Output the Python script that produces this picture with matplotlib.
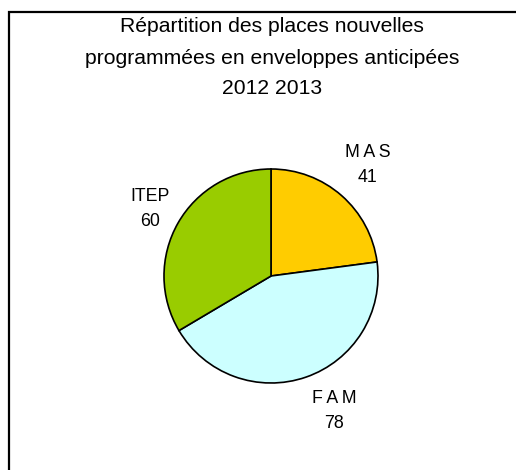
import matplotlib
matplotlib.use("Agg")
import matplotlib.pyplot as plt
import numpy as np
from matplotlib.patches import Rectangle

plt.rcParams["font.family"] = ["Liberation Sans", "DejaVu Sans"]

title = "Répartition des places nouvelles\nprogrammées en enveloppes anticipées\n2012 2013"
categories = ["M\u2009A\u2009S", "F\u2009A\u2009M", "ITEP"]
values = [41, 78, 60]
colors = ["#FFCC00", "#CCFFFF", "#99CC00"]

W, H = 516, 470
cx, cy, rad = 271, 276, 107  # pie centre / radius in pixels

fig = plt.figure(figsize=(W / 100, H / 100), dpi=100)
ax = fig.add_axes([0, 0, 1, 1])

wedges, _ = ax.pie(values, colors=colors, startangle=90, counterclock=False,
                   radius=1, center=(0, 0), frame=True,
                   wedgeprops={"edgecolor": "black", "linewidth": 1.2})
ax.set_xlim(-cx / rad, (W - cx) / rad)
ax.set_ylim(-(H - cy) / rad, cy / rad)
ax.set_aspect("auto")
ax.axis("off")

# label positions (pixel layout, like Excel best fit)
label_px = [(368, 165), (334, 411), (150, 209)]
for name, val, (px, py) in zip(categories, values, label_px):
    ax.text((px - cx) / rad, (cy - py) / rad, f"{name}\n{val}", ha="center", va="center",
            fontsize=12.8, linespacing=1.6)

fig.text(272 / W, 1 - 58 / H, title, ha="center", va="center", fontsize=15.2, linespacing=1.8)

# chart frame (right and bottom edges fall outside the image)
fig.add_artist(Rectangle((9 / W, -0.1), 1.2, 1 - 12 / H + 0.1, transform=fig.transFigure,
                         fill=False, edgecolor="black", linewidth=1.6))

fig.savefig("out.png", dpi=100)
